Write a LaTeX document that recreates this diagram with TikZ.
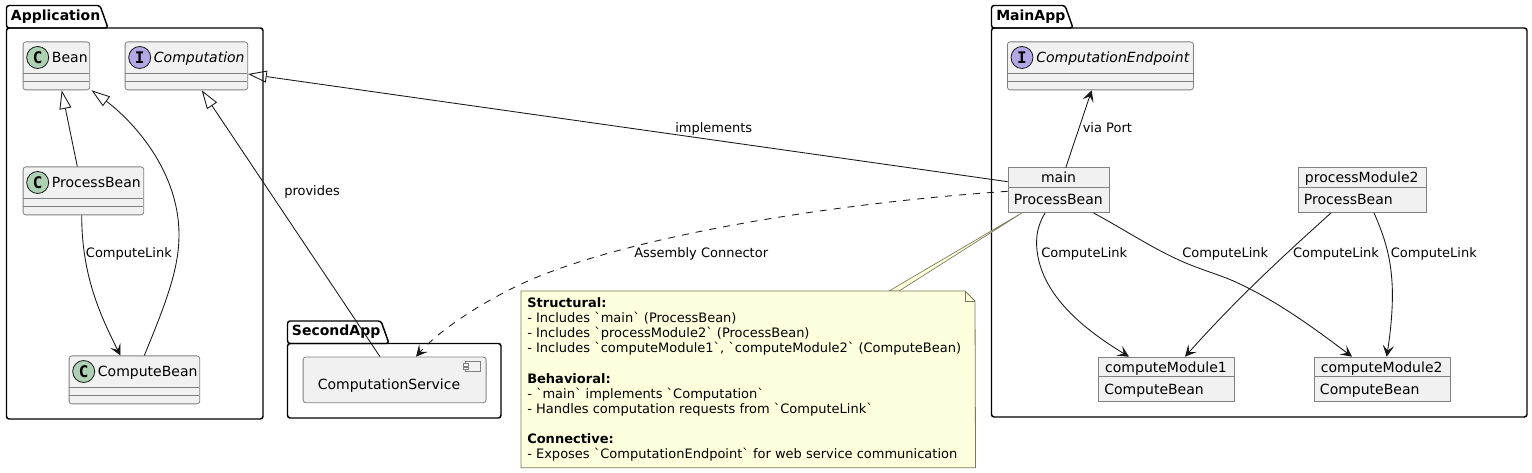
\documentclass[tikz,border=0pt]{standalone}
\usepackage{fontspec}
\setmainfont{DejaVu Sans}
\newfontfamily\letterfont{DejaVu Sans Mono}
\usepackage{xcolor}
\usetikzlibrary{arrows.meta,calc}

\definecolor{boxfill}{HTML}{F1F1F1}
\definecolor{boxline}{HTML}{808080}
\definecolor{inkline}{HTML}{181818}
\definecolor{classfill}{HTML}{ADD1B2}
\definecolor{ifacefill}{HTML}{B4A7E5}
\definecolor{notefill}{HTML}{FEFFDD}
\definecolor{noteline}{HTML}{7A7A5A}

\newcommand{\tick}[1]{\textasciigrave #1\textasciigrave}

\tikzset{
	boxstyle/.style={draw=boxline, fill=boxfill, line width=0.6pt, inner sep=0pt, anchor=north west},
	namestyle/.style={inner sep=0pt, anchor=base west, font=\fontsize{10.5pt}{12pt}\selectfont, text=black},
	linklabel/.style={inner sep=0pt, anchor=base west, font=\fontsize{9.75pt}{12pt}\selectfont, text=black},
	pkgtitle/.style={inner sep=0pt, anchor=base west, font=\fontsize{10.5pt}{12pt}\selectfont\bfseries, text=black},
	link/.style={draw=inkline, line width=0.65pt},
	openlink/.style={link, -{Stealth[length=8.5pt, width=8.5pt, inset=3.8pt]}},
	inherit/.style={link, {Triangle[open, length=14pt, width=9pt]}-},
	pkgline/.style={draw=black, line width=1.1pt, rounded corners=2pt}
}

\begin{document}
\begin{tikzpicture}[x=0.75pt, y=-0.75pt]
	% Parameters
	\def\classh{48}
	\def\objh{44.6}
	\def\baseline{257.7}
	
	\useasboundingbox (0,0) rectangle (1532,473);
	
	%packages
	\foreach \xl/\yt/\xr/\yb/\tabr in {6.5/5.5/263/419/100, 287.5/321/501/418/381, 991.5/5.5/1527/417/1065} {
		\draw[pkgline] (\xl,\yt+22.5) -- (\xl,\yt) -- (\tabr,\yt) -- (\tabr+8,\yt+22.5) -- cycle;
		\draw[pkgline] (\xl,\yt+22.5) -- (\xl,\yb) -- (\xr,\yb) -- (\xr,\yt+22.5) -- cycle;
	}
	\node[pkgtitle] (apptitle) at (10.7,20.7) {Application};
	\node[pkgtitle] (secondtitle) at (291.7,336) {SecondApp};
	\node[pkgtitle] (maintitle) at (996,20.7) {MainApp};
	
	%classes
	\foreach \nm/\xl/\yt/\boxw/\letter/\letterfill/\lab in {
		bean/22.7/41.5/66.6/C/classfill/{Bean},
		computation/124.7/41.5/122.6/I/ifacefill/{\itshape Computation},
		procbean/22.7/166.5/120.6/C/classfill/{ProcessBean},
		compbean/68.7/355.5/130.6/C/classfill/{ComputeBean},
		endpoint/1007/41.5/186/I/ifacefill/{\itshape ComputationEndpoint}} {
		\node[boxstyle, rounded corners=2pt, minimum width=\boxw*0.75pt, minimum height=\classh*0.75pt] (\nm) at (\xl,\yt) {};
		\draw[boxline, line width=0.6pt] (\xl,\yt+32) -- (\xl+\boxw,\yt+32);
		\draw[boxline, line width=0.6pt] (\xl,\yt+40) -- (\xl+\boxw,\yt+40);
		\node[circle, draw=inkline, fill=\letterfill, line width=0.6pt, minimum size=16.5pt, inner sep=0pt, font=\letterfont\bfseries\fontsize{12pt}{12pt}\selectfont] (\nm-mark) at (\xl+15,\yt+16) {\letter};
		\node[namestyle] (\nm-name) at (\xl+29,\yt+21) {\lab};
	}
	
	%objects
	\foreach \nm/\xl/\yt/\boxw/\objtitle/\objclass in {
		mainobj/1007.7/167.5/101.7/main/ProcessBean,
		procmodule/1297.7/167.5/128/processModule2/ProcessBean,
		modulea/1098/356.7/136/computeModule1/ComputeBean,
		moduleb/1313.7/356.7/136/computeModule2/ComputeBean} {
		\node[boxstyle, minimum width=\boxw*0.75pt, minimum height=\objh*0.75pt] (\nm) at (\xl,\yt) {};
		\draw[boxline, line width=0.6pt] (\xl,\yt+20) -- (\xl+\boxw,\yt+20);
		\node[namestyle, anchor=base] (\nm-title) at (\xl+\boxw/2,\yt+15.5) {\objtitle};
		\node[namestyle] (\nm-class) at (\xl+6,\yt+37.5) {\objclass};
	}
	
	%component
	\node[boxstyle, rounded corners=2pt, minimum width=183*0.75pt, minimum height=45.6*0.75pt] (service) at (302.7,356.7) {};
	\node[namestyle, anchor=base] (service-name) at (389,389.5) {ComputationService};
	\draw[boxline, line width=0.6pt, fill=boxfill] (465.3,361.7) rectangle (480.7,371.7);
	\draw[boxline, line width=0.6pt, fill=boxfill] (463.3,363.7) rectangle (468,366);
	\draw[boxline, line width=0.6pt, fill=boxfill] (463.3,367.5) rectangle (468,369.8);
	
	%note
	\node[inner sep=0pt, anchor=north west, minimum width=454*0.75pt, minimum height=176.3*0.75pt] (note) at (521,291) {};
	\filldraw[noteline, fill=notefill, line width=0.5pt] ($(note.north west)+(368,0)$) -- ($(mainobj.south west)+(14.3,0)$) -- ($(note.north west)+(378,0)$) -- cycle;
	\filldraw[noteline, fill=notefill, line width=0.6pt] (note.north west) -- (965,291) -- (975,301) -- (note.south east) -- (note.south west) -- cycle;
	\draw[noteline, line width=0.6pt] (965,291) -- (965,301) -- (975,301);
	\node[inner sep=0pt, anchor=north west, align=left, text=black, font=\fontsize{9.75pt}{11.38pt}\selectfont] (notetext) at (527,297) {\textbf{Structural:}\\
		- Includes \tick{main} (ProcessBean)\\
		- Includes \tick{processModule2} (ProcessBean)\\
		- Includes \tick{computeModule1}, \tick{computeModule2} (ComputeBean)\\[11.38pt]
		\textbf{Behavioral:}\\
		- \tick{main} implements \tick{Computation}\\
		- Handles computation requests from \tick{ComputeLink}\\[11.38pt]
		\textbf{Connective:}\\
		- Exposes \tick{ComputationEndpoint} for web service communication};
	
	%generalizations
	\draw[inherit] ($(bean.south west)+(39,0)$) -- ($(procbean.north west)+(54.6,0)$);
	\draw[inherit] ($(bean.south east)+(1.4,0)$) .. controls (125,115) and (179,165) .. (179,235) .. controls (179,270) and (165,305) .. ($(compbean.north west)+(75.6,0)$);
	\draw[inherit] ($(computation.south west)+(77,0)$) -- ($(service.north west)+(77.3,0)$);
	\draw[inherit] ($(computation.north east)+(0,32.5)$) -- ($(mainobj.north west)+(0,14.2)$);
	
	%links
	\draw[openlink] ($(procbean.south west)+(59,0)$) .. controls (81.7,275) and (100,315) .. ($(compbean.north west)+(51.8,0)$);
	\draw[openlink] ($(mainobj.north west)+(58.1,0)$) -- ($(endpoint.south west)+(84.7,0)$);
	\draw[openlink, dash pattern=on 5.25pt off 5.25pt] ($(mainobj.north west)+(0,23.8)$) .. controls (820,204) and (610,240) .. (515,287) .. controls (470,309) and (435,335) .. ($(service.north west)+(113.3,0)$);
	\draw[openlink] ($(mainobj.south west)+(37.3,0)$) .. controls (1038,225) and (1036,235) .. (1036.7,247) .. controls (1040,295) and (1085,330) .. ($(modulea.north west)+(31,0)$);
	\draw[openlink] ($(mainobj.south west)+(85.8,0)$) .. controls (1125,230) and (1155,250) .. (1185.7,263) .. controls (1205,271) and (1220,275) .. (1235,281.7) .. controls (1275,300) and (1310,325) .. ($(moduleb.north west)+(38.3,0)$);
	\draw[openlink] ($(procmodule.south west)+(33.3,0)$) .. controls (1290,250) and (1240,295) .. ($(modulea.north west)+(87,0)$);
	\draw[openlink] ($(procmodule.south west)+(76.3,0)$) .. controls (1385,238) and (1392,260) .. (1392.4,293) .. controls (1392.5,315) and (1390,335) .. ($(moduleb.north west)+(73,0)$);
	
	%labels
	\node[linklabel] (lblprovides) at (284,196) {provides};
	\node[linklabel] (lblimplements) at (675,133) {implements};
	\node[linklabel] (lblport) at (1082.5,132.5) {via Port};
	\node[linklabel] (lblassembly) at (634,\baseline) {Assembly Connector};
	\foreach \x/\i in {85.7/a,1041/b,1182/c,1292.8/d,1390.6/e} {
		\node[linklabel] (lblcompute\i) at (\x,\baseline) {ComputeLink};
	}
\end{tikzpicture}
\end{document}
